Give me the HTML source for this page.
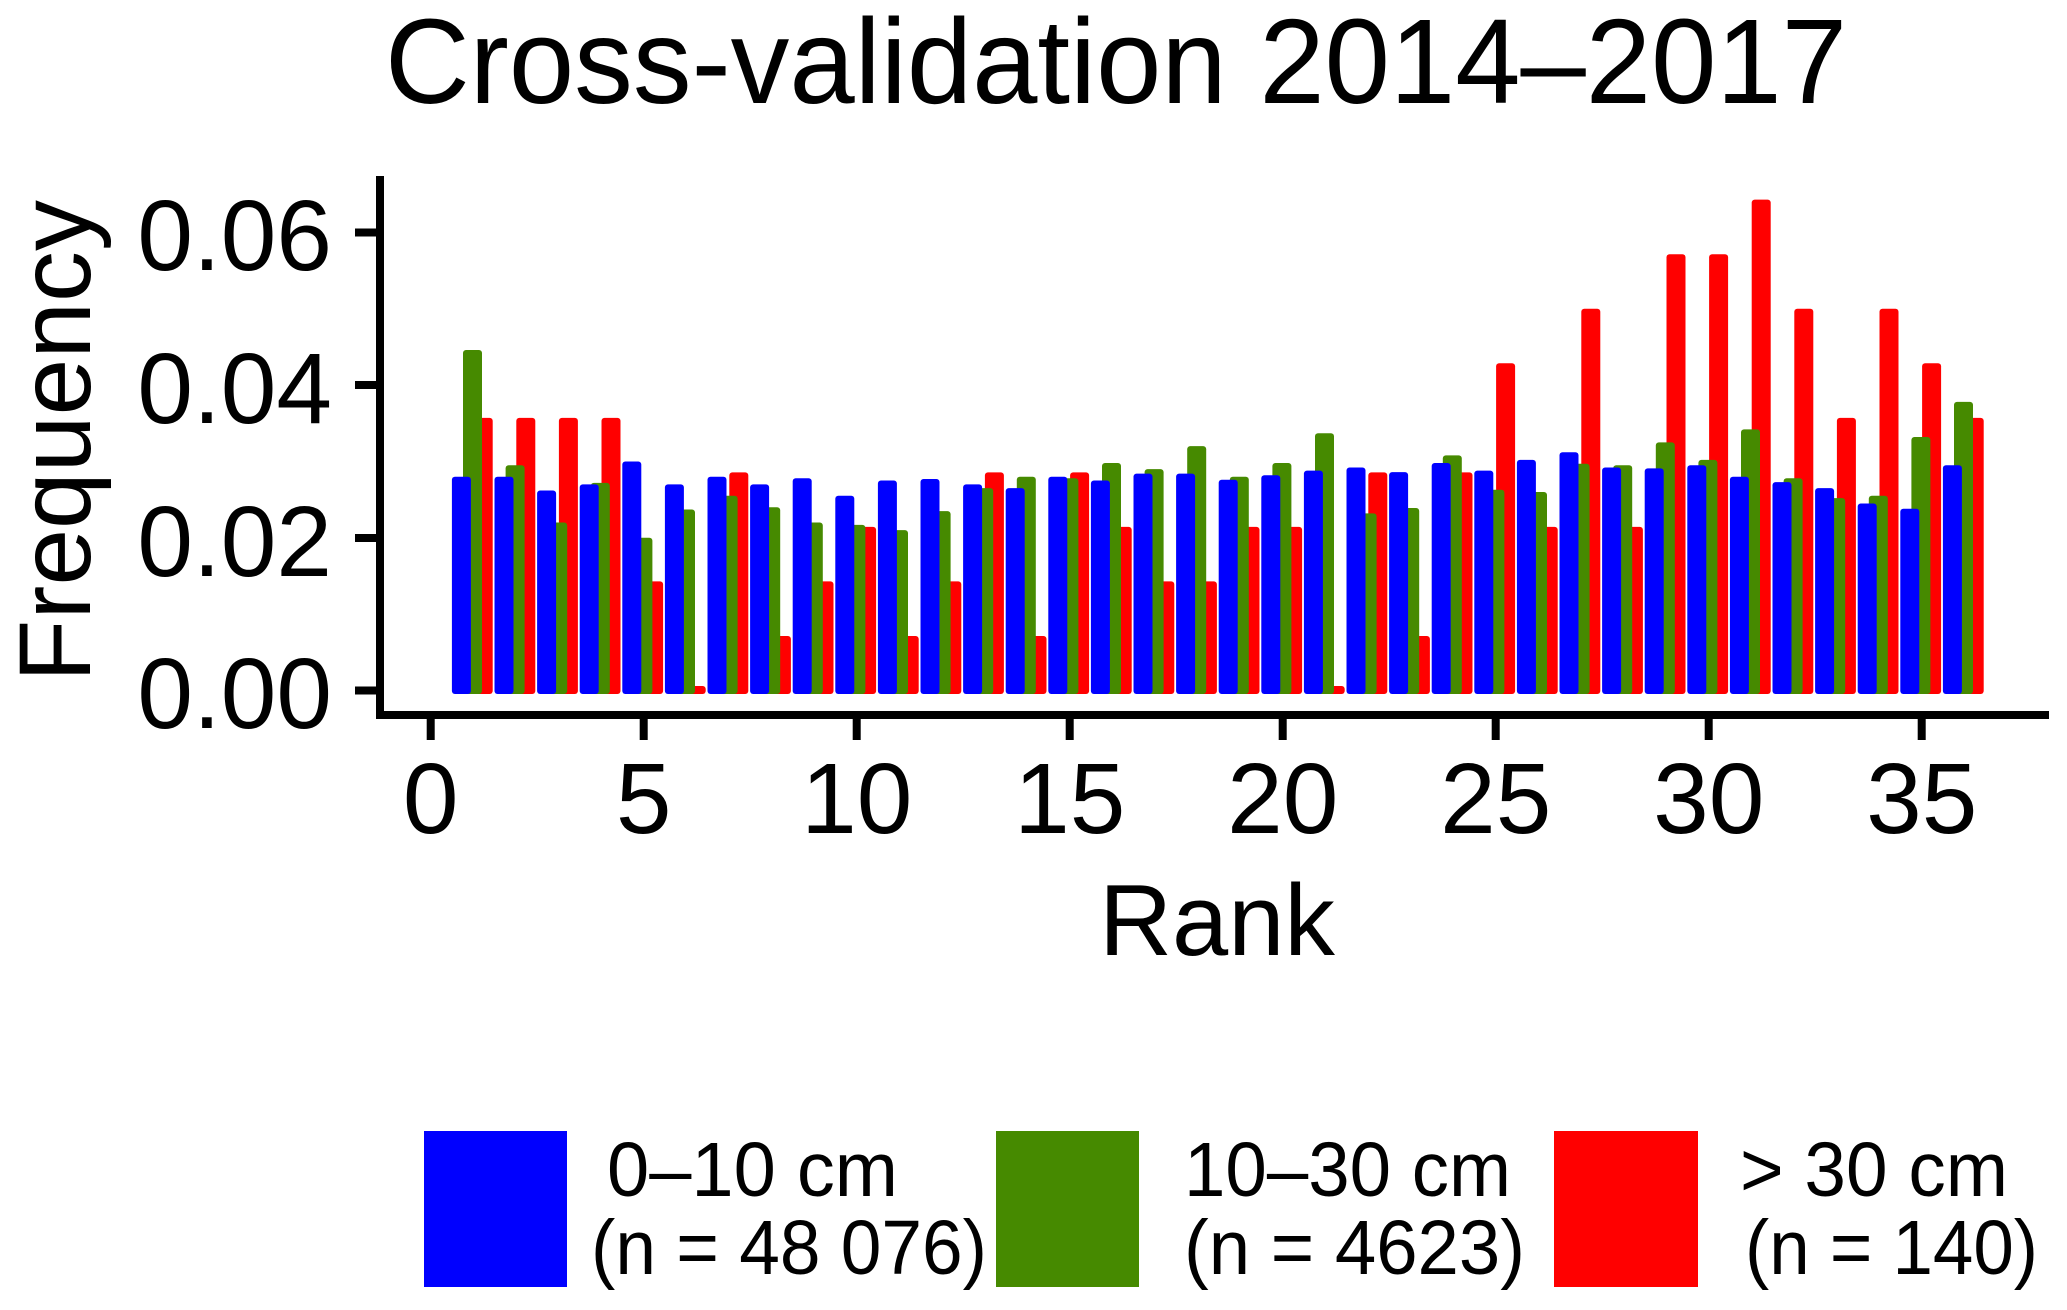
<!DOCTYPE html>
<html><head><meta charset="utf-8"><style>
html,body{margin:0;padding:0;background:#fff;}
svg{display:block;}
text{font-family:"Liberation Sans",Arial,sans-serif;fill:#000;}
</style></head><body>
<svg id="s" width="2067" height="1310" viewBox="0 0 2067 1310" xmlns="http://www.w3.org/2000/svg">
<rect width="2067" height="1310" fill="#fff"/>
<text x="385" y="103" font-size="121" textLength="1462" lengthAdjust="spacingAndGlyphs">Cross-validation 2014–2017</text>
<g id="bars"></g>
<!-- axes -->
<rect x="376" y="176" width="8" height="543" fill="#000"/>
<rect x="376" y="711" width="1673" height="8" fill="#000"/>
<rect x="355" y="228.5" width="25" height="8" fill="#000"/>
<rect x="355" y="381" width="25" height="8" fill="#000"/>
<rect x="355" y="534" width="25" height="8" fill="#000"/>
<rect x="355" y="686.5" width="25" height="8" fill="#000"/>
<g font-size="100" text-anchor="end">
<text x="332" y="270">0.06</text>
<text x="332" y="423">0.04</text>
<text x="332" y="576">0.02</text>
<text x="332" y="728">0.00</text>
</g>
<g fill="#000">
<rect x="426.7" y="715" width="8" height="25"/>
<rect x="639.7" y="715" width="8" height="25"/>
<rect x="852.7" y="715" width="8" height="25"/>
<rect x="1065.7" y="715" width="8" height="25"/>
<rect x="1278.7" y="715" width="8" height="25"/>
<rect x="1491.7" y="715" width="8" height="25"/>
<rect x="1704.7" y="715" width="8" height="25"/>
<rect x="1917.7" y="715" width="8" height="25"/>
</g>
<g font-size="100" text-anchor="middle">
<text x="430.7" y="833">0</text>
<text x="643.7" y="833">5</text>
<text x="856.7" y="833">10</text>
<text x="1069.7" y="833">15</text>
<text x="1282.7" y="833">20</text>
<text x="1495.7" y="833">25</text>
<text x="1708.7" y="833">30</text>
<text x="1921.7" y="833">35</text>
</g>
<text x="1217" y="955" font-size="101" text-anchor="middle">Rank</text>
<text transform="translate(90,441) rotate(-90)" font-size="102" text-anchor="middle">Frequency</text>
<!-- legend -->
<rect x="424" y="1131" width="143" height="156" fill="#0000ff"/>
<rect x="996" y="1131" width="143" height="156" fill="#468a00"/>
<rect x="1554" y="1131" width="144" height="156" fill="#ff0000"/>
<g font-size="77">
<text x="607" y="1196" textLength="291" lengthAdjust="spacingAndGlyphs">0–10 cm</text>
<text x="591" y="1274" textLength="396" lengthAdjust="spacingAndGlyphs">(n = 48 076)</text>
<text x="1184" y="1196" textLength="327" lengthAdjust="spacingAndGlyphs">10–30 cm</text>
<text x="1184" y="1274" textLength="341" lengthAdjust="spacingAndGlyphs">(n = 4623)</text>
<text x="1740" y="1196" textLength="268" lengthAdjust="spacingAndGlyphs">&gt; 30 cm</text>
<text x="1745" y="1274" textLength="293" lengthAdjust="spacingAndGlyphs">(n = 140)</text>
</g>
</svg>
<script>
var B=[.028,.028,.0262,.027,.030,.027,.028,.027,.0278,.0255,.0275,.0277,.027,.0265,.028,.0275,.0284,.0284,.0276,.0282,.0288,.0292,.0286,.0298,.0288,.0302,.0312,.0292,.0291,.0295,.028,.0273,.0265,.0245,.0238,.0295];
var G=[.0446,.0295,.022,.0272,.020,.0237,.0255,.024,.022,.0217,.021,.0235,.0265,.028,.0278,.0298,.029,.032,.028,.0298,.0337,.0232,.0239,.0308,.0263,.026,.0297,.0295,.0325,.0302,.0342,.0278,.0252,.0255,.0332,.0378];
var R=[5,5,5,5,2,0,4,1,2,3,1,2,4,1,4,3,2,2,3,3,0,4,1,4,6,3,7,3,8,8,9,7,5,7,6,5];
var ns="http://www.w3.org/2000/svg",g=document.getElementById("bars");
function bar(x,v,c){var top=690.5-v*7635;if(top>686)top=686;var r=document.createElementNS(ns,"rect");
r.setAttribute("x",x);r.setAttribute("y",top);r.setAttribute("width",19);r.setAttribute("height",694-top);
r.setAttribute("rx",3);r.setAttribute("fill",c);g.appendChild(r);}
for(var i=0;i<36;i++){var c=430.7+(i+1)*42.6;
bar(c+0.4,R[i]/140,"#ff0000");bar(c-10.3,G[i],"#468a00");bar(c-21.4,B[i],"#0000ff");}
</script>
</body></html>
